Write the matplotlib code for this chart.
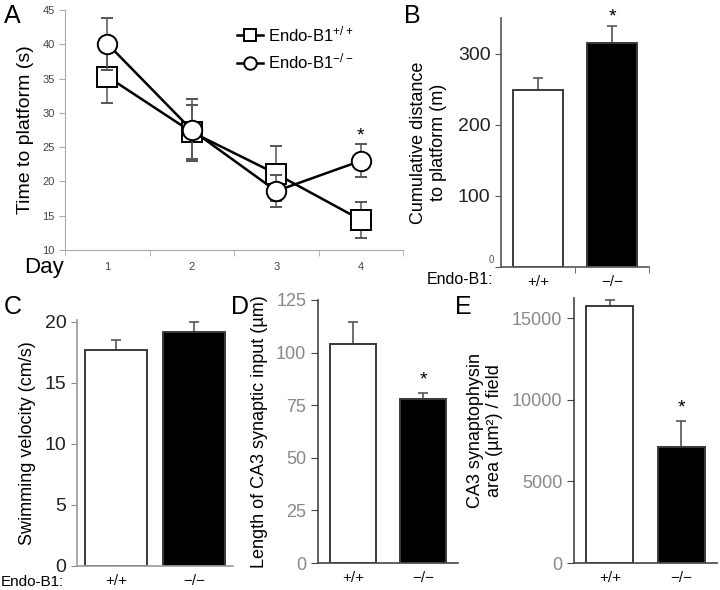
import matplotlib
matplotlib.use("Agg")
import matplotlib.pyplot as plt
from matplotlib.lines import Line2D

plt.rcParams['font.family'] = ['Liberation Sans', 'DejaVu Sans']
plt.rcParams['mathtext.default'] = 'regular'

# ---------------- data ----------------
days = [1, 2, 3, 4]
day_labels = ["1", "2", "3", "4"]
wt_time = [35.3, 27.2, 21.1, 14.4]
wt_time_err = [3.8, 3.9, 4.0, 2.6]
ko_time = [40.1, 27.5, 18.6, 23.0]
ko_time_err = [3.8, 4.5, 2.4, 2.4]

genotypes = ["+/+", "\u2212/\u2212"]
distance = [249, 315]
distance_err = [16, 24]
velocity = [17.7, 19.2]
velocity_err = [0.8, 0.8]
ca3_length = [104, 78]
ca3_length_err = [10.7, 2.8]
syn_area = [15750, 7100]
syn_area_err = [400, 1620]

W, H = 720, 590
fig = plt.figure(figsize=(7.2, 5.9), dpi=100)


def axes_px(left, top, right, bottom):
    return fig.add_axes([left / W, 1 - bottom / H, (right - left) / W, (bottom - top) / H])


def style_bar_axes(ax, spine_col, lw=1.2):
    for s in ['top', 'right']:
        ax.spines[s].set_visible(False)
    for s in ['left', 'bottom']:
        ax.spines[s].set_color(spine_col)
        ax.spines[s].set_linewidth(lw)


def draw_bars(ax, vals, errs, width):
    x = range(len(vals))
    ax.bar(x, vals, width=width, color=['white', 'black'], edgecolor='#3a3a3a',
           linewidth=1.4, zorder=2)
    ax.errorbar(x, vals, yerr=[[0] * len(vals), errs], fmt='none', ecolor='#555555',
                elinewidth=1.2, capsize=3.5, capthick=1.2, zorder=1)
    ax.set_xlim(-0.5, 1.5)
    ax.set_xticks(list(x))
    ax.set_xticklabels(genotypes, fontsize=11, color='#111111')
    ax.tick_params(axis='x', length=0, pad=6)


# ---------------- Panel A ----------------
axA = axes_px(65, 10, 403, 250)
axA.errorbar(days, wt_time, yerr=wt_time_err, color='black', lw=1.8, marker='s',
             markersize=14, markerfacecolor='white', markeredgecolor='black',
             markeredgewidth=1.4, ecolor='#555555', elinewidth=1.1, capsize=4, zorder=3)
axA.errorbar(days, ko_time, yerr=ko_time_err, color='black', lw=1.8, marker='o',
             markersize=14, markerfacecolor='white', markeredgecolor='black',
             markeredgewidth=1.4, ecolor='#555555', elinewidth=1.1, capsize=4, zorder=4)
axA.set_xlim(0.5, 4.5)
axA.set_ylim(10, 45)
axA.set_yticks(range(10, 46, 5))
axA.set_xticks(days)
axA.set_xticklabels(day_labels)
axA.set_xticks([0.5, 1.5, 2.5, 3.5, 4.5], minor=True)
axA.tick_params(axis='x', which='major', length=0, labelsize=8, labelcolor='#444444', pad=9)
axA.tick_params(axis='x', which='minor', length=4, color='#aaaaaa', direction='out')
axA.tick_params(axis='y', labelsize=8, labelcolor='#444444', length=4, color='#aaaaaa')
for s in ['top', 'right']:
    axA.spines[s].set_visible(False)
for s in ['left', 'bottom']:
    axA.spines[s].set_color('#aaaaaa')
axA.set_ylabel("Time to platform (s)", fontsize=14, labelpad=6)
axA.text(4, 26.6, "*", ha='center', va='center', fontsize=14)
leg_handles = [
    Line2D([0], [0], color='black', lw=1.8, marker='s', markersize=9,
           markerfacecolor='white', markeredgewidth=1.4),
    Line2D([0], [0], color='black', lw=1.8, marker='o', markersize=9,
           markerfacecolor='white', markeredgewidth=1.4),
]
axA.legend(leg_handles, ['Endo-B1$^{+/+}$', 'Endo-B1$^{-/-}$'], loc='upper left',
           bbox_to_anchor=((225 - 65) / 338, 0.99), frameon=False, fontsize=12,
           handlelength=1.6, handletextpad=0.3, labelspacing=0.45, borderpad=0.2)

# ---------------- Panel B ----------------
axB = axes_px(501, 18, 649, 267)
draw_bars(axB, distance, distance_err, 0.68)
axB.set_ylim(0, 350)
axB.set_yticks([0, 100, 200, 300])
axB.set_yticklabels(["", "100", "200", "300"])
axB.tick_params(axis='y', labelsize=14, labelcolor='#222222', length=4, color='#555555')
axB.set_xticks([0.5, 1.5], minor=True)
axB.tick_params(axis='x', which='minor', length=4, color='#555555')
style_bar_axes(axB, '#555555')
axB.text(-0.6, 3, "0", ha='right', va='bottom', fontsize=7, color='#555555')
axB.set_ylabel("Cumulative distance\nto platform (m)", fontsize=13, labelpad=8)
axB.text(1, 352, "*", ha='center', va='center', fontsize=14, clip_on=False)

# ---------------- Panel C ----------------
axC = axes_px(77, 320, 233, 566)
draw_bars(axC, velocity, velocity_err, 0.79)
axC.set_ylim(0, 20.15)
axC.set_yticks([0, 5, 10, 15, 20])
axC.tick_params(axis='y', labelsize=14, labelcolor='#222222', length=4, color='#888888')
style_bar_axes(axC, '#999999')
axC.set_ylabel("Swimming velocity (cm/s)", fontsize=13, labelpad=6)

# ---------------- Panel D ----------------
axD = axes_px(318, 300, 458, 563)
draw_bars(axD, ca3_length, ca3_length_err, 0.67)
axD.set_ylim(0, 125)
axD.set_yticks([0, 25, 50, 75, 100, 125])
axD.tick_params(axis='y', labelsize=13, labelcolor='#888888', length=5, color='#444444')
style_bar_axes(axD, '#444444')
axD.set_ylabel("Length of CA3 synaptic input (\u00b5m)", fontsize=13, labelpad=6)
axD.text(1, 87, "*", ha='center', va='center', fontsize=14)

# ---------------- Panel E ----------------
axE = axes_px(574, 298, 717, 563)
draw_bars(axE, syn_area, syn_area_err, 0.66)
axE.set_ylim(0, 16250)
axE.set_yticks([0, 5000, 10000, 15000])
axE.tick_params(axis='y', labelsize=13, labelcolor='#888888', length=5, color='#444444')
style_bar_axes(axE, '#444444')
axE.set_ylabel("CA3 synaptophysin\narea (\u00b5m\u00b2) / field", fontsize=13, labelpad=6)
axE.text(1, 9500, "*", ha='center', va='center', fontsize=14)

# ---------------- figure text ----------------
fig.text(4 / W, 1 - 16 / H, "A", fontsize=18, va='center', ha='left')
fig.text(404 / W, 1 - 16 / H, "B", fontsize=18, va='center', ha='left')
fig.text(4 / W, 1 - 307 / H, "C", fontsize=18, va='center', ha='left')
fig.text(231 / W, 1 - 307 / H, "D", fontsize=18, va='center', ha='left')
fig.text(455 / W, 1 - 307 / H, "E", fontsize=18, va='center', ha='left')
fig.text(24 / W, 1 - 268 / H, "Day", fontsize=16, va='center', ha='left')
fig.text(427 / W, 1 - 279 / H, "Endo-B1:", fontsize=11.5, va='center', ha='left')
fig.text(1 / W, 1 - 582 / H, "Endo-B1:", fontsize=11, va='center', ha='left')

fig.savefig("out.png", dpi=100)
